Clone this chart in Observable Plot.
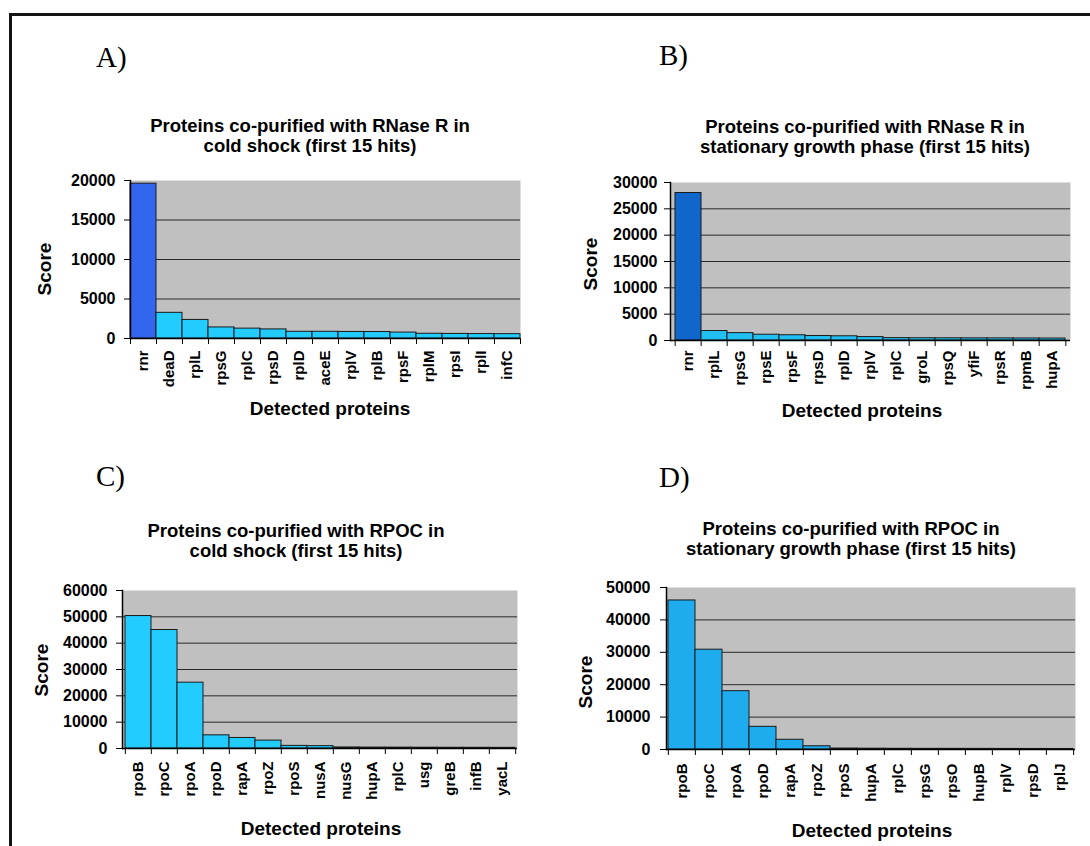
<!DOCTYPE html>
<html><head><meta charset="utf-8">
<script src="https://cdn.jsdelivr.net/npm/d3@7"></script>
<script src="https://cdn.jsdelivr.net/npm/@observablehq/plot@0.6"></script>
<style>
html,body{margin:0;padding:0;background:#fff;}
#page{position:relative;width:1090px;height:846px;overflow:hidden;background:#fff;}
.border{position:absolute;left:9px;top:13px;width:1200px;height:1000px;border-left:3px solid #141414;border-top:3px solid #141414;}
.lbl{position:absolute;font-family:"Liberation Sans",Arial,sans-serif;font-weight:bold;color:#000;white-space:nowrap;}
.title{font-size:18.5px;line-height:20px;text-align:center;width:500px;margin-left:-250px;}
.xlab{font-size:19px;line-height:19px;text-align:center;width:300px;margin-left:-150px;}
.ylab{font-size:19px;line-height:19px;transform:translate(-50%,-50%) rotate(-90deg);}
.letter{position:absolute;font-family:"Liberation Serif","Times New Roman",serif;font-size:29px;line-height:29px;color:#000;}
.chart{position:absolute;}
</style>
</head><body>
<div id="page"><div class="border"></div></div>
<script>
// ---- data ----
const namesA = ["rnr","deaD","rplL","rpsG","rplC","rpsD","rplD","aceE","rplV","rplB","rpsF","rplM","rpsI","rplI","infC"];
const scoresA = [19600, 3250, 2350, 1400, 1250, 1150, 850, 850, 830, 820, 750, 600, 580, 560, 550];
const ticksA = [0, 5000, 10000, 15000, 20000];

const namesB = ["rnr","rplL","rpsG","rpsE","rpsF","rpsD","rplD","rplV","rplC","groL","rpsQ","yfiF","rpsR","rpmB","hupA"];
const scoresB = [28000, 1800, 1400, 1100, 1000, 850, 800, 650, 450, 430, 420, 410, 400, 390, 380];
const ticksB = [0, 5000, 10000, 15000, 20000, 25000, 30000];

const namesC = ["rpoB","rpoC","rpoA","rpoD","rapA","rpoZ","rpoS","nusA","nusG","hupA","rplC","usg","greB","infB","yacL"];
const scoresC = [50300, 45000, 25000, 5000, 4000, 3000, 1000, 900, 400, 350, 330, 300, 280, 270, 250];
const ticksC = [0, 10000, 20000, 30000, 40000, 50000, 60000];

const namesD = ["rpoB","rpoC","rpoA","rpoD","rapA","rpoZ","rpoS","hupA","rplC","rpsG","rpsO","hupB","rplV","rpsD","rplJ"];
const scoresD = [46000, 30800, 18000, 7000, 3000, 1000, 300, 250, 220, 200, 200, 190, 180, 170, 160];
const ticksD = [0, 10000, 20000, 30000, 40000, 50000];

const letters = ["A)", "B)", "C)", "D)"];
const titles = [
  ["Proteins co-purified with RNase R in", "cold shock (first 15 hits)"],
  ["Proteins co-purified with RNase R in", "stationary growth phase (first 15 hits)"],
  ["Proteins co-purified with RPOC in", "cold shock (first 15 hits)"],
  ["Proteins co-purified with RPOC in", "stationary growth phase (first 15 hits)"]
];
const xLabel = "Detected proteins";
const yLabel = "Score";

// ---- layout ----
const panels = [
  {names:namesA, scores:scoresA, ticks:ticksA, box:[130,520,180,338], hl:"#3366ee", base:"#22ccff",
   yPad:9, xPad:12, letter:[96,43], title:[310,116], xl:[330,399], yl:[43.5,268.5]},
  {names:namesB, scores:scoresB, ticks:ticksB, box:[670,1070,182,340], hl:"#1166cc", base:"#22bff5",
   yPad:7, xPad:10, letter:[659,41], title:[865,116.5], xl:[862,401], yl:[590,264]},
  {names:namesC, scores:scoresC, ticks:ticksC, box:[122,517,590,748], hl:null, base:"#22ccff",
   yPad:9, xPad:13, letter:[96,462], title:[296,520.5], xl:[321,819], yl:[40.5,670]},
  {names:namesD, scores:scoresD, ticks:ticksD, box:[666,1075,587,749], hl:null, base:"#1eacee",
   yPad:10, xPad:14, letter:[659,463], title:[851,518.5], xl:[872,821], yl:[584.5,681.5]}
];

const page = document.getElementById("page");
const ML = 70, MR = 10, MT = 10, MB = 80;

panels.forEach((p, k) => {
  const [x0, x1, y0, y1] = p.box;
  const yMax = p.ticks[p.ticks.length - 1];
  const bw = (x1 - x0) / p.names.length;
  const data = p.names.map((n, i) => ({name: n, score: p.scores[i]}));
  const chart = Plot.plot({
    width: (x1 - x0) + ML + MR,
    height: (y1 - y0) + MT + MB,
    marginLeft: ML, marginRight: MR, marginTop: MT, marginBottom: MB,
    style: {background: "transparent", color: "#000", fontFamily: "Liberation Sans, Arial, sans-serif", overflow: "visible"},
    x: {type: "band", domain: p.names, padding: 0, axis: null},
    y: {domain: [0, yMax], axis: null},
    color: {type: "identity"},
    marks: [
      Plot.frame({fill: "#c0c0c0", stroke: "none"}),
      Plot.gridY({ticks: p.ticks.filter(t => t > 0 && t < yMax), stroke: "#2a2a2a", strokeOpacity: 1, strokeWidth: 1}),
      Plot.barY(data, {x: "name", y: "score", fill: (d, i) => (i === 0 && p.hl) ? p.hl : p.base, stroke: "#1a1a1a", strokeWidth: 1}),
      Plot.ruleY([0], {stroke: "#000", strokeWidth: 1.5}),
      Plot.frame({anchor: "left", stroke: "#000", strokeWidth: 1.5}),
      Plot.axisY({ticks: p.ticks, tickSize: 6, tickPadding: p.yPad, tickFormat: d3.format("d"), fontSize: 16, fontWeight: "bold", label: null, stroke: "#000"}),
      Plot.axisX({tickSize: 0, tickRotate: -90, tickPadding: p.xPad, fontSize: 15, fontWeight: "bold", label: null}),
      Plot.axisX({tickSize: 6, tickFormat: () => "", dx: -bw / 2, label: null, stroke: "#000"}),
      Plot.axisX({ticks: [p.names[p.names.length - 1]], tickSize: 6, tickFormat: () => "", dx: bw / 2, label: null, stroke: "#000"})
    ]
  });
  chart.classList.add("chart");
  chart.style.left = (x0 - ML) + "px";
  chart.style.top = (y0 - MT) + "px";
  page.appendChild(chart);

  const L = document.createElement("div");
  L.className = "letter"; L.textContent = letters[k];
  L.style.left = p.letter[0] + "px"; L.style.top = p.letter[1] + "px";
  page.appendChild(L);

  const T = document.createElement("div");
  T.className = "lbl title";
  T.innerHTML = titles[k].map(s => s.replace(/&/g, "&amp;")).join("<br>");
  T.style.left = p.title[0] + "px"; T.style.top = p.title[1] + "px";
  page.appendChild(T);

  const X = document.createElement("div");
  X.className = "lbl xlab"; X.textContent = xLabel;
  X.style.left = p.xl[0] + "px"; X.style.top = p.xl[1] + "px";
  page.appendChild(X);

  const Y = document.createElement("div");
  Y.className = "lbl ylab"; Y.textContent = yLabel;
  Y.style.left = p.yl[0] + "px"; Y.style.top = p.yl[1] + "px";
  page.appendChild(Y);
});
</script>
</body></html>
